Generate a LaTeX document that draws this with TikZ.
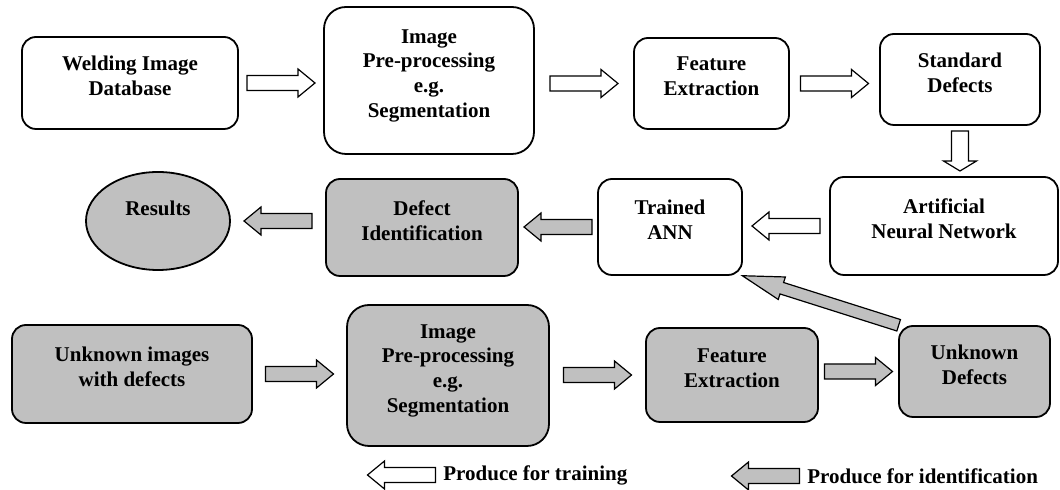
\documentclass[tikz,border=0pt]{standalone}
\usepackage{fontspec}
\setmainfont{Liberation Serif}
\usetikzlibrary{calc,shapes.geometric}
\definecolor{boxgray}{RGB}{192,192,192}

\begin{document}
\begin{tikzpicture}[x=0.5pt,y=-0.5pt,
  every node/.style={font=\bfseries\fontsize{10.5}{12.4}\selectfont, align=center, inner sep=2pt},
  box/.style={draw, line width=0.9pt, rounded corners=7pt, execute at end node={\rule[-7pt]{0pt}{7pt}}},
  bigbox/.style={box, rounded corners=11pt},
  grey/.style={fill=boxgray},
  fat len/.store in=\fatlen, fat len=34pt,
  fat shaft/.store in=\fatshaft, fat shaft=3.75pt,
  fat head/.store in=\fathead, fat head=7pt,
  fat tip/.store in=\fattip, fat tip=8.5pt,
  fat/.style={draw, line width=0.6pt, fill=white, to path={
    ($(\tikztostart)!0.5!(\tikztotarget)!-0.5*\fatlen!(\tikztotarget)!\fatshaft!90:(\tikztotarget)$)
    -- ($(\tikztostart)!0.5!(\tikztotarget)!{0.5*\fatlen-\fattip}!(\tikztotarget)!\fatshaft!90:(\tikztotarget)$)
    -- ($(\tikztostart)!0.5!(\tikztotarget)!{0.5*\fatlen-\fattip}!(\tikztotarget)!\fathead!90:(\tikztotarget)$)
    -- ($(\tikztostart)!0.5!(\tikztotarget)!0.5*\fatlen!(\tikztotarget)$)
    -- ($(\tikztostart)!0.5!(\tikztotarget)!{0.5*\fatlen-\fattip}!(\tikztotarget)!\fathead!-90:(\tikztotarget)$)
    -- ($(\tikztostart)!0.5!(\tikztotarget)!{0.5*\fatlen-\fattip}!(\tikztotarget)!\fatshaft!-90:(\tikztotarget)$)
    -- ($(\tikztostart)!0.5!(\tikztotarget)!-0.5*\fatlen!(\tikztotarget)!\fatshaft!-90:(\tikztotarget)$)
    -- cycle}}]
\useasboundingbox (0,0) rectangle (1060,490);

\node[box, minimum width=108pt, minimum height=46pt] (wid) at (130,83) {Welding Image\\Database};
\node[bigbox, minimum width=105pt, minimum height=73.5pt] (pre) at (429,80.5) {Image\\Pre-processing\\e.g.\\Segmentation};
\node[box, minimum width=77.5pt, minimum height=45.5pt] (fea) at (711.5,83.5) {Feature\\Extraction};
\node[box, minimum width=80pt, minimum height=45.5pt] (std) at (960,79.5) {Standard\\Defects};

\node[box, minimum width=114pt, minimum height=49pt] (ann) at (944,226) {Artificial\\Neural Network};
\node[box, minimum width=72pt, minimum height=48pt] (tann) at (670,227) {Trained\\ANN};
\node[box, grey, minimum width=96pt, minimum height=48.5pt] (defid) at (422,227.5) {Defect\\Identification};
\node[draw, ellipse, grey, line width=0.9pt, minimum width=72pt, minimum height=49pt, text depth=13pt] (res) at (158,221) {Results};

\node[box, grey, minimum width=120pt, minimum height=49pt] (unk) at (132,374) {Unknown images\\with defects};
\node[bigbox, grey, minimum width=101pt, minimum height=70.5pt] (pre2) at (448,375.5) {Image\\Pre-processing\\e.g.\\Segmentation};
\node[box, grey, minimum width=86pt, minimum height=47pt] (fea2) at (732,375) {Feature\\Extraction};
\node[box, grey, minimum width=75.5pt, minimum height=45.5pt] (und) at (974.5,371.5) {Unknown\\Defects};

\node[anchor=west, inner sep=0pt] (legtr) at (443,475) {Produce for training};
\coordinate (legtrtip) at (360,475);
\node[anchor=west, inner sep=0pt] (legid) at (807,476) {Produce for identification};
\coordinate (legidtip) at (724,476);

\draw[fat] (wid.east) to (wid.east -| pre.west);
\draw[fat] (fea.west -| pre.east) to (fea.west);
\draw[fat] (fea.east) to (fea.east -| std.west);
\draw[fat, fat len=20pt, fat shaft=4.25pt, fat head=8.25pt, fat tip=5pt] (std.south) to (std.south |- ann.north);
\draw[fat] (ann.west) to (ann.west -| tann.east);
\draw[fat, grey] (tann.west) to (tann.west -| defid.east);
\draw[fat, grey] (res.east -| defid.west) to (res.east);
\draw[fat, grey] (unk.east) to (unk.east -| pre2.west);
\draw[fat, grey] (fea2.west -| pre2.east) to (fea2.west);
\draw[fat, grey] (und.west -| fea2.east) to (und.west);
\draw[fat, grey, fat len=82pt, fat shaft=3pt, fat head=5.9pt, fat tip=20.7pt] (und.north west) to (tann.south east);
\draw[fat] (legtr.west) to (legtrtip);
\draw[fat, grey] (legid.west) to (legidtip);
\end{tikzpicture}
\end{document}
